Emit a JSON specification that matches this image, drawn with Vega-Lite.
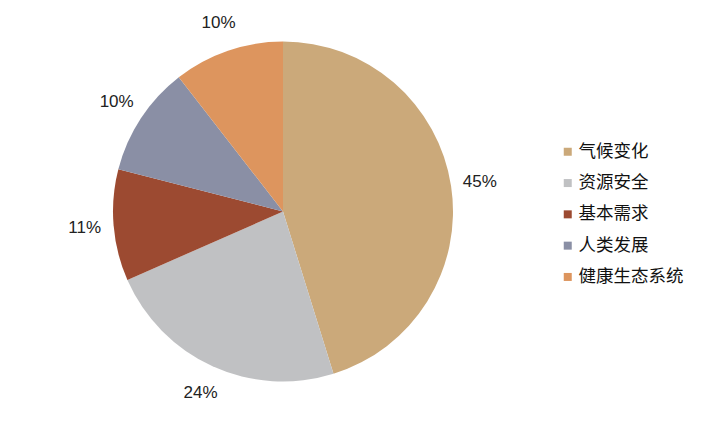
{
  "$schema": "https://vega.github.io/schema/vega-lite/v6.json",
  "width": 566,
  "height": 423,
  "autosize": "none",
  "padding": {"left": 0, "top": 0, "right": 153, "bottom": 2},
  "background": "white",
  "config": {"view": {"stroke": null}},
  "data": {"values": [
    {"cat": "气候变化", "v": 45.2, "idx": 1, "lab": "45%"},
    {"cat": "资源安全", "v": 23.2, "idx": 2, "lab": "24%"},
    {"cat": "基本需求", "v": 10.6, "idx": 3, "lab": "11%"},
    {"cat": "人类发展", "v": 10.5, "idx": 4, "lab": "10%"},
    {"cat": "健康生态系统", "v": 10.5, "idx": 5, "lab": "10%"}
  ]},
  "encoding": {
    "theta": {"field": "v", "type": "quantitative", "stack": true},
    "order": {"field": "idx", "type": "quantitative"}
  },
  "layer": [
    {
      "mark": {"type": "arc", "outerRadius": 170},
      "encoding": {
        "color": {
          "field": "cat", "type": "nominal",
          "sort": ["气候变化", "资源安全", "基本需求", "人类发展", "健康生态系统"],
          "scale": {
            "domain": ["气候变化", "资源安全", "基本需求", "人类发展", "健康生态系统"],
            "range": ["#CBA97A", "#C0C1C3", "#9C4A31", "#8A8FA5", "#DD955E"]
          },
          "legend": {
            "title": null,
            "orient": "none",
            "legendX": 559,
            "legendY": 143,
            "symbolType": "square",
            "symbolSize": 64,
            "symbolStrokeWidth": 0,
            "labelFont": "Noto Sans CJK SC",
            "labelFontSize": 17.5,
            "labelColor": "#111111",
            "labelOffset": 2,
            "rowPadding": 12.3
          }
        }
      }
    },
    {
      "mark": {"type": "text", "radius": 199, "fontSize": 17, "font": "Liberation Sans", "color": "#222222"},
      "encoding": {
        "text": {"field": "lab", "type": "nominal"}
      }
    }
  ]
}
